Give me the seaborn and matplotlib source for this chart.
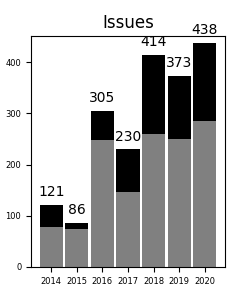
import matplotlib
matplotlib.use("Agg")
import matplotlib.pyplot as plt
import seaborn as sns
import pandas as pd

years = ["2014", "2015", "2016", "2017", "2018", "2019", "2020"]
totals = [121, 86, 305, 230, 414, 373, 438]
gray_part = [79, 75, 248, 147, 260, 250, 286]

df = pd.DataFrame({"year": years, "total": totals, "gray": gray_part})

fig, ax = plt.subplots(figsize=(2.5, 3.0), dpi=100)
fig.subplots_adjust(left=0.124, right=0.9, top=0.88, bottom=0.11)

sns.barplot(data=df, x="year", y="total", color="black", saturation=1,
            width=0.9, ax=ax, linewidth=0)
sns.barplot(data=df, x="year", y="gray", color="#808080", saturation=1,
            width=0.9, ax=ax, linewidth=0)

for i, t in enumerate(totals):
    ax.annotate(str(t), (i, t), xytext=(0, 4), textcoords="offset points",
                ha="center", va="bottom", fontsize=10)

ax.set_xlim(-0.795, 6.795)
ax.set_ylim(0, max(totals) * 1.03)
ax.set_xlabel("")
ax.set_ylabel("")
ax.set_title("Issues", fontsize=12)
ax.tick_params(axis="both", labelsize=6)
for s in ax.spines.values():
    s.set_visible(True)
    s.set_color("black")

fig.savefig("out.png", dpi=100)
